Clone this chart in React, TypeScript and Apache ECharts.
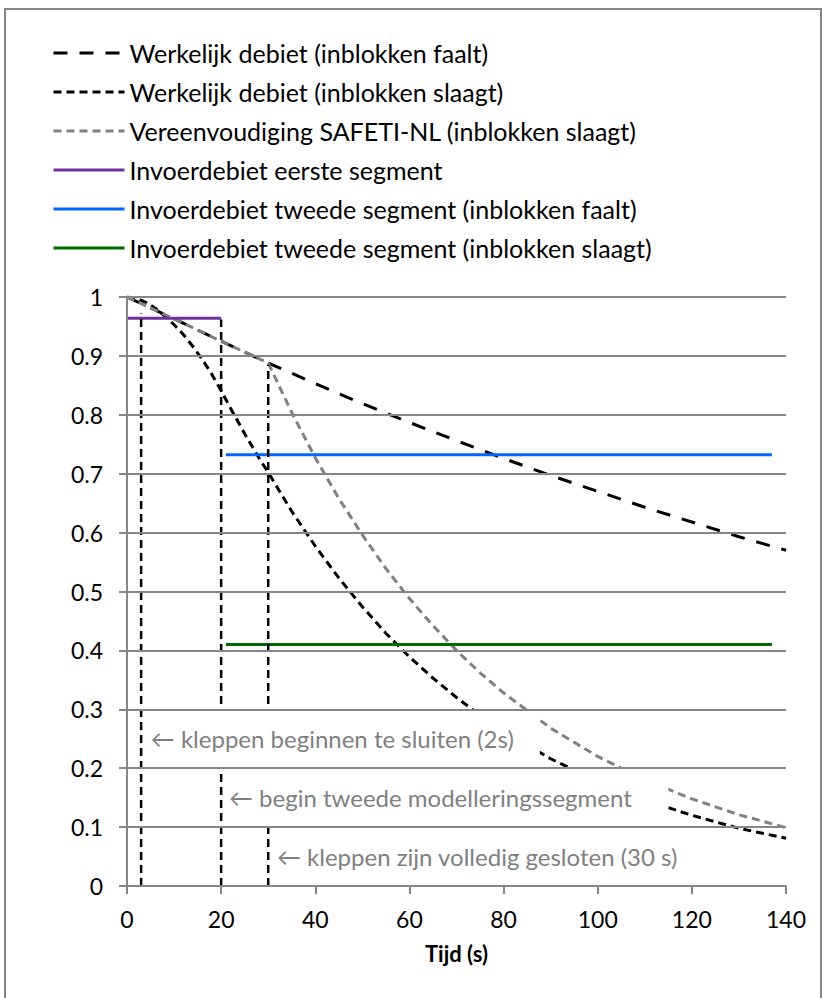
import React, { useEffect, useRef } from 'react';
import * as echarts from 'echarts';

const FONT = 'Lato, "Open Sans", sans-serif';

const seriesNames = [
  'Werkelijk debiet (inblokken faalt)',
  'Werkelijk debiet (inblokken slaagt)',
  'Vereenvoudiging SAFETI-NL (inblokken slaagt)',
  'Invoerdebiet eerste segment',
  'Invoerdebiet tweede segment (inblokken faalt)',
  'Invoerdebiet tweede segment (inblokken slaagt)',
];

// Werkelijk debiet (inblokken faalt)
const faaltT = [0, 10, 20, 30, 40, 50, 60, 70, 80, 90, 100, 110, 120, 130, 140];
const faaltV = [1, 0.963, 0.925, 0.888, 0.853, 0.819, 0.787, 0.756, 0.726, 0.697, 0.67, 0.643, 0.618, 0.593, 0.57];

// Werkelijk debiet (inblokken slaagt)
const slaagtT = [0, 2, 4, 6, 8, 10, 12, 14, 16, 18, 20, 22, 25, 28, 30, 35, 40, 45, 50, 55, 60, 65, 70, 75, 80, 90, 100, 110, 120, 130, 140];
const slaagtV = [1, 0.998, 0.991, 0.981, 0.968, 0.953, 0.936, 0.916, 0.894, 0.869, 0.841, 0.811, 0.768, 0.727, 0.702, 0.636, 0.577, 0.523, 0.474, 0.429, 0.389, 0.353, 0.32, 0.29, 0.263, 0.216, 0.177, 0.146, 0.12, 0.098, 0.081];

// Vereenvoudiging SAFETI-NL (inblokken slaagt)
const safetiT = [0, 10, 20, 30, 35, 40, 45, 50, 55, 60, 65, 70, 75, 80, 90, 100, 110, 120, 130, 140];
const safetiV = [1, 0.963, 0.925, 0.888, 0.804, 0.727, 0.658, 0.596, 0.539, 0.488, 0.442, 0.4, 0.362, 0.328, 0.268, 0.22, 0.18, 0.148, 0.121, 0.099];

// Invoerdebiet segments [tStart, tEnd, value]
const eersteSegment = [0, 20, 0.964];
const tweedeFaalt = [21, 137, 0.732];
const tweedeSlaagt = [21, 137, 0.41];

// vertical marker lines
const markerTimes = [3, 20, 30];
const markerTops = [0.972, 0.962, 0.885];

// annotation boxes
const notes = [
  '← kleppen beginnen te sluiten (2s)',
  '← begin tweede modelleringssegment',
  '← kleppen zijn volledig gesloten (30 s)',
];
const noteX0 = [4.2, 20.8, 31];
const noteX1 = [87.7, 115, 120];
const noteY0 = [0.2, 0.1, 0];
const noteY1 = [0.3, 0.2, 0.1];

const xTicks = [0, 20, 40, 60, 80, 100, 120, 140];

const zip = (t: number[], v: number[]) => t.map((x, i) => [x, v[i]]);

export default function App() {
  const ref = useRef<HTMLDivElement>(null);
  useEffect(() => {
    document.body.style.margin = '0';
    if (!ref.current) return;
    const chart = echarts.init(ref.current, undefined, { renderer: 'svg' });

    const lineBase = { type: 'line', showSymbol: false, symbol: 'none', z: 2, animation: false };

    const option: any = {
      animation: false,
      backgroundColor: '#ffffff',
      textStyle: { fontFamily: FONT },
      graphic: [
        {
          type: 'rect',
          shape: { x: 5, y: 9, width: 816, height: 1010 },
          style: { fill: 'none', stroke: '#868686', lineWidth: 2 },
          z: 0,
        },
      ],
      legend: {
        orient: 'vertical',
        left: 47,
        top: 35,
        itemWidth: 71,
        itemHeight: 14,
        itemGap: 13,
        selectedMode: false,
        data: seriesNames,
        itemStyle: { opacity: 0 },
        lineStyle: { width: 3 },
        textStyle: { fontFamily: FONT, fontSize: 25, color: '#000', lineHeight: 26 },
      },
      grid: { left: 127, right: 36, top: 297, bottom: 112, containLabel: false },
      xAxis: {
        type: 'value',
        min: 0,
        max: 140,
        interval: 20,
        z: 4,
        name: 'Tijd (s)',
        nameLocation: 'middle',
        nameGap: 56,
        nameTextStyle: { fontFamily: FONT, fontSize: 22, fontWeight: 'bold', color: '#000' },
        axisLine: { show: true, lineStyle: { color: '#868686', width: 2 } },
        axisTick: { show: true, length: 8, lineStyle: { color: '#868686', width: 2 } },
        axisLabel: {
          margin: 21,
          fontFamily: FONT,
          fontSize: 23,
          color: '#000',
          formatter: (v: number) => (xTicks.includes(v) ? String(v) : ''),
        },
        splitLine: { show: false },
      },
      yAxis: {
        type: 'value',
        min: 0,
        max: 1,
        interval: 0.1,
        z: 4,
        axisLine: { show: true, lineStyle: { color: '#868686', width: 2 } },
        axisTick: { show: true, length: 8, lineStyle: { color: '#868686', width: 2 } },
        axisLabel: {
          margin: 24,
          fontFamily: FONT,
          fontSize: 23,
          color: '#000',
          formatter: (v: number) => String(Math.round(v * 10) / 10),
        },
        splitLine: { show: true, lineStyle: { color: '#868686', width: 2 } },
      },
      series: [
        {
          ...lineBase,
          name: seriesNames[0],
          data: zip(faaltT, faaltV),
          lineStyle: { color: '#000', width: 3, type: [14, 12] },
          itemStyle: { color: '#000' },
        },
        {
          ...lineBase,
          name: seriesNames[1],
          data: zip(slaagtT, slaagtV),
          lineStyle: { color: '#000', width: 3, type: [8, 5] },
          itemStyle: { color: '#000' },
        },
        {
          ...lineBase,
          name: seriesNames[2],
          data: zip(safetiT, safetiV),
          lineStyle: { color: '#808080', width: 3, type: [8, 5] },
          itemStyle: { color: '#808080' },
        },
        {
          ...lineBase,
          name: seriesNames[3],
          data: [[eersteSegment[0], eersteSegment[2]], [eersteSegment[1], eersteSegment[2]]],
          lineStyle: { color: '#7030a0', width: 3, type: 'solid' },
          itemStyle: { color: '#7030a0' },
        },
        {
          ...lineBase,
          name: seriesNames[4],
          data: [[tweedeFaalt[0], tweedeFaalt[2]], [tweedeFaalt[1], tweedeFaalt[2]]],
          lineStyle: { color: '#0066ff', width: 3, type: 'solid' },
          itemStyle: { color: '#0066ff' },
        },
        {
          ...lineBase,
          name: seriesNames[5],
          data: [[tweedeSlaagt[0], tweedeSlaagt[2]], [tweedeSlaagt[1], tweedeSlaagt[2]]],
          lineStyle: { color: '#006a00', width: 3, type: 'solid' },
          itemStyle: { color: '#006a00' },
        },
        ...markerTimes.map((t, i) => ({
          ...lineBase,
          name: 'marker' + i,
          data: [[t, 0], [t, markerTops[i]]],
          lineStyle: { color: '#000', width: 2.5, type: [8, 5] },
          itemStyle: { color: '#000' },
        })),
        {
          type: 'custom',
          name: 'notes',
          z: 3,
          silent: true,
          encode: { x: [0, 1], y: [2, 3] },
          data: notes.map((_, i) => [noteX0[i], noteX1[i], noteY0[i], noteY1[i]]),
          renderItem: (params: any, api: any) => {
            const i = params.dataIndex;
            const p0 = api.coord([api.value(0), api.value(3)]);
            const p1 = api.coord([api.value(1), api.value(2)]);
            return {
              type: 'group',
              children: [
                {
                  type: 'rect',
                  shape: { x: p0[0], y: p0[1], width: p1[0] - p0[0], height: p1[1] - p0[1] },
                  style: { fill: '#ffffff' },
                },
                {
                  type: 'text',
                  x: p0[0] + 4,
                  y: (p0[1] + p1[1]) / 2,
                  style: {
                    text: notes[i],
                    fill: '#7f7f7f',
                    fontSize: 24,
                    fontFamily: FONT,
                    align: 'left',
                    verticalAlign: 'middle',
                  },
                },
              ],
            };
          },
        },
      ],
    };
    chart.setOption(option);
    return () => chart.dispose();
  }, []);
  return <div ref={ref} style={{ width: 822, height: 998 }} />;
}
